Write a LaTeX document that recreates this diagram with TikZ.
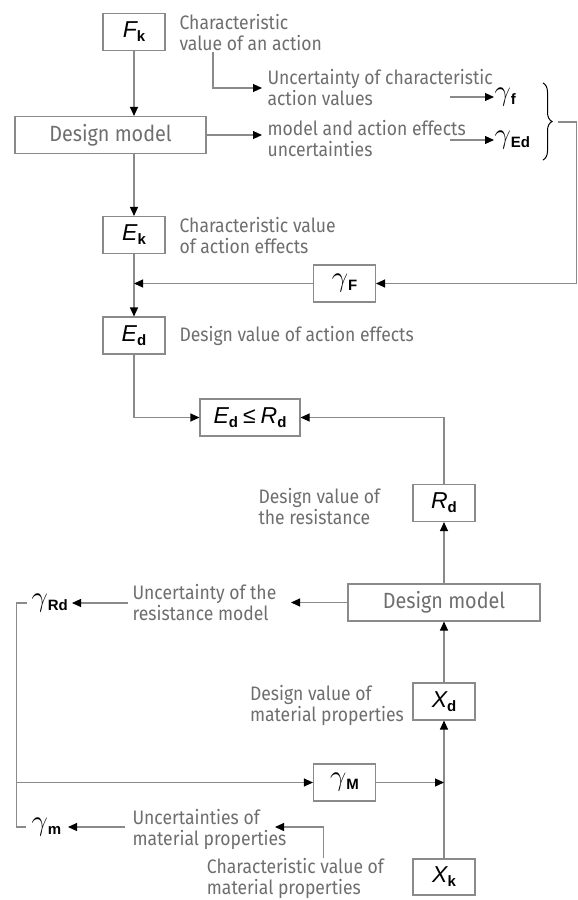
\documentclass[tikz,border=0pt]{standalone}
\usepackage{fix-cm}
\usepackage{fontspec}
\newfontfamily\txtf[FakeStretch=0.9]{Fira Sans}
\newfontfamily\symf{Liberation Sans}
\usetikzlibrary{arrows.meta,positioning,decorations.pathreplacing}
\definecolor{txtgray}{HTML}{6E6E6E}
\definecolor{linegray}{HTML}{8A8A8A}
\newcommand{\symq}[2]{{\symf\fontsize{23}{23}\selectfont\itshape #1}\raisebox{-4pt}{\symf\bfseries\fontsize{15}{15}\selectfont #2}}
\newcommand{\gam}[1]{{\fontsize{29}{29}\selectfont$\gamma$}\raisebox{-4pt}{\symf\bfseries\fontsize{15}{15}\selectfont #1}}

\begin{document}
\begin{tikzpicture}[x=1pt,y=-1pt,color=linegray,line width=1.1pt,
  box/.style={draw=linegray,line width=1.1pt,minimum width=62pt,minimum height=37pt,inner sep=0pt,text=black},
  mbox/.style={box,minimum width=191pt,text=txtgray,font=\txtf\fontsize{22}{24}\selectfont},
  txt/.style={anchor=west,align=left,inner sep=0pt,text=txtgray,font=\txtf\fontsize{19.5}{21}\selectfont},
  sym/.style={anchor=west,inner sep=0pt,text=black},
  arr/.style={-{Triangle[length=9pt,width=8pt,color=black]}}]
\useasboundingbox (0,0) rectangle (578,900);
% action side
\node[box] (Fk) at (134,32) {\symq{F}{k}};
\node[mbox] (dmA) at (110.5,135) {Design model};
\node[box] (Ek) at (134,235) {\symq{E}{k}};
\node[box] (gF) at (344.5,283.5) {\gam{F}};
\node[box] (Ed) at (134,335.5) {\symq{E}{d}};
\node[box,minimum width=100pt] (cmp) at (250,417.5) {\symq{E}{d}\hspace{5pt}{\symf\fontsize{23}{23}\selectfont≤}\hspace{5pt}\symq{R}{d}};
\node[txt] (cvAct) at (179,33) {Characteristic\\value of an action};
\node[txt] (ucAct) at (267,88) {Uncertainty of characteristic\\action values};
\node[txt] (meAct) at (267,138.5) {model and action effects\\uncertainties};
\node[txt] (cvEff) at (179,236) {Characteristic value\\of action effects};
\node[txt] (dvEff) at (179,335.5) {Design value of action effects};
\node[sym] (gf) at (494,97) {\gam{f}};
\node[sym] (gEd) at (494,140) {\gam{Ed}};
\coordinate (aTop) at (213,52);
\coordinate (aTip) at (262,88);
\coordinate (mTip) at (262,135);
\coordinate (fIn) at (450,97);
\coordinate (eIn) at (450,140);
\coordinate (bOut) at (558,122);
\coordinate (rEdge) at (576.5,122);
\draw[arr] (Fk.south) -- (Fk.south |- dmA.north);
\draw[arr] (Ek.north |- dmA.south) -- (Ek.north);
\draw[arr] (Ek.south) -- (Ed.north);
\draw[arr] (aTop) |- (aTip);
\draw[arr] (dmA.east) -- (mTip);
\draw[arr] (fIn) -- (gf.west);
\draw[arr] (eIn) -- (gEd.west);
\draw[draw=black,line width=1pt,decorate,decoration={brace,amplitude=9pt}] (543,83) -- (543,160);
\draw[arr] (bOut) -- (rEdge) |- (gF.east);
\draw[arr] (gF.west) -- (Ek.south |- gF.west);
\draw[arr] (Ed.south) |- (cmp.west);
% resistance side
\node[box] (Rd) at (444,503) {\symq{R}{d}};
\node[mbox,minimum width=192pt] (dmB) at (444,602.5) {Design model};
\node[box] (Xd) at (444,701.5) {\symq{X}{d}};
\node[box] (gM) at (344.5,782.5) {\gam{M}};
\node[box,minimum height=36pt] (Xk) at (444,877) {\symq{X}{k}};
\node[txt] (dvRes) at (258,506.5) {Design value of\\the resistance};
\node[txt] (ucRes) at (132,602.5) {Uncertainty of the\\resistance model};
\node[txt] (dvMat) at (249.5,705) {Design value of\\material properties};
\node[txt] (ucMat) at (132,829) {Uncertainties of\\material properties};
\node[txt] (cvMat) at (206.4,878) {Characteristic value of\\material properties};
\node[sym] (gRd) at (31,603) {\gam{Rd}};
\node[sym] (gm) at (31,827) {\gam{m}};
\coordinate (rTip) at (291,602.5);
\coordinate (rdIn) at (128,603);
\coordinate (rdTip) at (72,603);
\coordinate (mIn) at (125,827);
\coordinate (mTipL) at (68,827);
\coordinate (lTop) at (16.7,603);
\coordinate (lBot) at (16.7,827);
\coordinate (lMid) at (16.7,782.5);
\coordinate (cTop) at (323.6,858);
\coordinate (cTip) at (275,827);
\draw[arr] (Rd.north) |- (cmp.east);
\draw[arr] (dmB.north) -- (Rd.south);
\draw[arr] (Xd.north) -- (dmB.south);
\draw[arr] (Xk.north) -- (Xd.south);
\draw[arr] (gM.east) -- (Xd.south |- gM.east);
\draw[arr] (dmB.west) -- (rTip);
\draw[arr] (rdIn) -- (rdTip);
\draw[arr] (mIn) -- (mTipL);
\draw (27,603) -- (lTop) -- (lBot) -- (26,827);
\draw[arr] (lMid) -- (gM.west);
\draw[arr] (cTop) |- (cTip);
\end{tikzpicture}
\end{document}
